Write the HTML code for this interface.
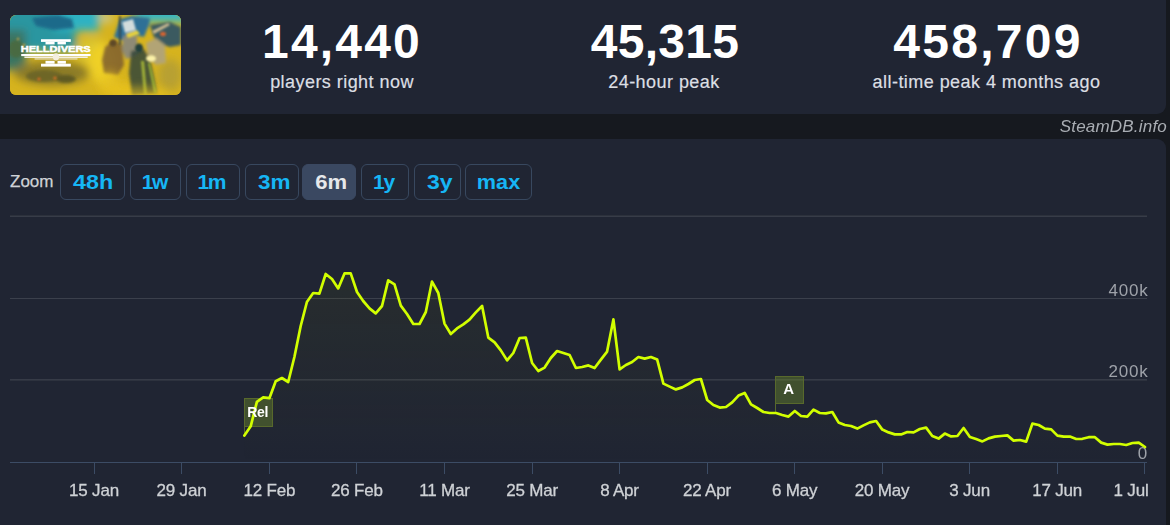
<!DOCTYPE html>
<html><head><meta charset="utf-8"><style>
*{margin:0;padding:0;box-sizing:border-box}
html,body{width:1170px;height:525px;overflow:hidden;background:#16191f;font-family:"Liberation Sans",sans-serif}
.top{position:absolute;left:0;top:-20px;width:1166px;height:134px;background:#202533;border-radius:0 0 9px 0}
.chartp{position:absolute;left:0;top:139px;width:1166px;height:420px;background:#202533;border-radius:0 9px 0 0}
.cap{position:absolute;left:10px;top:15px;width:171px;height:80px;border-radius:6px;overflow:hidden;background:#d8b21c}
.stat{position:absolute;top:0;width:322px;text-align:center}
.num{position:absolute;left:0;width:100%;top:14px;font-size:48px;font-weight:bold;color:#fff;line-height:56px}
.lab{position:absolute;left:0;width:100%;top:71px;font-size:18px;letter-spacing:0.45px;-webkit-text-stroke:0.2px #dcdfe3;color:#dcdfe3;line-height:22px}
.wm{position:absolute;right:3px;top:117px;letter-spacing:0.2px;font-size:17px;font-style:italic;color:#a9adb3;line-height:20px}
.zoom{position:absolute;left:10px;top:173px;-webkit-text-stroke:0.25px #cfd2d6;font-size:17px;color:#cfd2d6;line-height:18px}
.btn{position:absolute;top:164px;height:36px;border:1px solid #38485f;border-radius:6px;color:#16b6f5;font-weight:bold;font-size:21px;text-align:center;line-height:33px}
.btn.act{background:#3a4861;border-color:#3a4861;color:#e6e8eb}
body>svg{position:absolute;left:0;top:0}
svg text{font-family:"Liberation Sans",sans-serif}
</style></head><body>
<div class="top"></div>
<div class="chartp"></div>
<div class="cap"><svg width="171" height="80" viewBox="0 0 171 80" style="position:absolute;left:0;top:0">
<defs>
<filter id="b1" x="-50%" y="-50%" width="200%" height="200%"><feGaussianBlur stdDeviation="0.8"/></filter>
<filter id="b2" x="-50%" y="-50%" width="200%" height="200%"><feGaussianBlur stdDeviation="1.8"/></filter>
<filter id="b4" x="-50%" y="-50%" width="200%" height="200%"><feGaussianBlur stdDeviation="4.5"/></filter>
</defs>
<rect width="171" height="80" fill="#d6b31e"/>
<g filter="url(#b4)">
<rect x="-10" y="-10" width="76" height="46" fill="#2a96a0"/>
<rect x="45" y="-10" width="44" height="26" fill="#2fb2c2"/>
<rect x="125" y="-10" width="60" height="17" fill="#34b6c6"/>
<rect x="-10" y="15" width="26" height="40" fill="#3a7462"/>
<ellipse cx="82" cy="36" rx="16" ry="13" fill="#d8c430"/>
<ellipse cx="92" cy="48" rx="14" ry="20" fill="#efd028"/>
<ellipse cx="42" cy="58" rx="38" ry="12" fill="#8c7c26"/>
<ellipse cx="160" cy="60" rx="12" ry="16" fill="#b8a030"/>
<ellipse cx="110" cy="74" rx="22" ry="6" fill="#e6bf1e"/>
<ellipse cx="96" cy="3" rx="7" ry="5" fill="#c8c890"/>
</g>
<g filter="url(#b2)">
<path d="M22 3 L48 0 L62 4 L64 13 L44 15 L26 11 Z" fill="#1e6a8a"/>
<ellipse cx="6" cy="34" rx="8" ry="9" fill="#4a6a42"/>
<ellipse cx="34" cy="61" rx="18" ry="6" fill="#6e6626"/>
<ellipse cx="56" cy="64" rx="10" ry="4" fill="#5f5a22"/>
<path d="M104 22 L110 4 L122 1 L140 3 L139 10 L134 22 L126 20 L114 26 Z" fill="#2e7096"/>
<path d="M140 10 L160 7 L171 12 L171 30 L160 32 L146 28 Z" fill="#3a5a60"/>
<path d="M95 32 L104 25 L112 30 L114 50 L108 60 L94 58 L92 45 Z" fill="#7e5e2e" opacity="0.85"/>
<path d="M113 22 L120 17 L127 22 L128 40 L116 44 L112 35 Z" fill="#8e8a74"/>
<path d="M136 28 L146 23 L155 30 L156 48 L146 50 L138 42 Z" fill="#b2a474"/>
<path d="M121 36 L134 34 L140 44 L147 78 L122 80 L119 58 Z" fill="#34443a" opacity="0.85"/>
</g>
<g filter="url(#b1)">
<rect x="109" y="1" width="1.8" height="29" fill="#34444a"/>
<path d="M112 7 L123 4 L126 15 L115 18 Z" fill="#d2dcdc"/>
<path d="M116 19 L127 15 L130 19 L118 23 Z" fill="#e4d040"/>
<ellipse cx="153" cy="19" rx="3" ry="2.2" fill="#d46432"/>
<path d="M142 16 L158 8 L160 10 L144 19 Z" fill="#c8b890"/>
<ellipse cx="129" cy="33" rx="4" ry="4.5" fill="#22403e"/>
<ellipse cx="103" cy="28" rx="3.5" ry="3.5" fill="#5e4a26"/>
<ellipse cx="141" cy="43.5" rx="5" ry="3.2" fill="#fbf2a8"/>
<path d="M131 46 L134 80 L137 80 L134 46 Z" fill="#a0b038"/>
<path d="M138 48 L144 78 L147 78 L140 48 Z" fill="#98b034"/>
<ellipse cx="45" cy="63" rx="1.5" ry="1.5" fill="#e07020"/>
<ellipse cx="29" cy="64" rx="1.5" ry="1.5" fill="#e06a20"/>
<ellipse cx="8" cy="24" rx="1.2" ry="1.2" fill="#c8a040"/>
<ellipse cx="14" cy="30" rx="1.2" ry="1.2" fill="#d0a838"/>
</g>
<g filter="url(#b4)" opacity="0.55">
<ellipse cx="130" cy="80" rx="30" ry="8" fill="#e8c422"/>
<ellipse cx="100" cy="66" rx="10" ry="10" fill="#e8c422"/>
</g>
<g fill="#fff">
<rect x="31" y="24.2" width="29.8" height="2.7"/>
<rect x="35.5" y="26.8" width="9.1" height="2.6"/>
<rect x="47.5" y="26.8" width="8.4" height="2.6"/>
<text x="45.75" y="37.1" font-family="Liberation Sans" font-weight="bold" font-size="9" stroke="#fff" stroke-width="0.45" text-anchor="middle" textLength="70" lengthAdjust="spacingAndGlyphs">HELLDIVERS</text>
<rect x="11.2" y="39" width="69.4" height="2.1"/>
<rect x="14.4" y="41.5" width="63.3" height="1.5" fill="#f4f0e0"/>
<rect x="24.6" y="43.4" width="42.9" height="1.1" fill="#ece6d0"/>
<ellipse cx="46" cy="41.8" rx="3.2" ry="3.6" fill="#f4eede"/>
<rect x="35.5" y="45.8" width="9.1" height="2.9"/>
<rect x="47.5" y="45.8" width="8.4" height="2.9"/>
<rect x="31" y="48.7" width="29.8" height="2.9"/>
</g>
</svg>
</div>
<div class="stat" style="left:181px"><div class="num" style="letter-spacing:2.2px">14,440</div><div class="lab">players right now</div></div>
<div class="stat" style="left:503px"><div class="num" style="letter-spacing:0.25px;left:1px">45,315</div><div class="lab">24-hour peak</div></div>
<div class="stat" style="left:825.5px"><div class="num" style="letter-spacing:2.3px;left:1.5px">458,709</div><div class="lab">all-time peak 4 months ago</div></div>
<div class="wm">SteamDB.info</div>
<div class="zoom">Zoom</div>
<div class="btn" style="left:60px;width:65px"><span style="display:inline-block;transform:translateX(1px) scaleX(1.11)">48h</span></div><div class="btn" style="left:130px;width:51px;letter-spacing:-1.3px;text-indent:-2.3px">1w</div><div class="btn" style="left:186px;width:54px;letter-spacing:-1.5px;text-indent:-3.5px">1m</div><div class="btn" style="left:245px;width:54px"><span style="display:inline-block;transform:translateX(2px) scaleX(1.07)">3m</span></div><div class="btn act" style="left:302px;width:54px"><span style="display:inline-block;transform:translateX(2px) scaleX(1.05)">6m</span></div><div class="btn" style="left:361px;width:48px;letter-spacing:-1.2px;text-indent:-3.2px">1y</div><div class="btn" style="left:414px;width:47px"><span style="display:inline-block;transform:translateX(2px) scaleX(1.095)">3y</span></div><div class="btn" style="left:465px;width:67px"><span style="display:inline-block;transform:translateX(0.5px) scaleX(1.03)">max</span></div>
<svg width="1170" height="525" viewBox="0 0 1170 525">
<defs><linearGradient id="g" x1="0" y1="0" x2="0" y2="1"><stop offset="0" stop-color="#66700a" stop-opacity="0.11"/><stop offset="1" stop-color="#66700a" stop-opacity="0"/></linearGradient></defs>
<rect x="10" y="215" width="1137" height="1" fill="#2c313c"/><rect x="10" y="216" width="1137" height="1" fill="#373c48"/>
<rect x="10" y="298" width="1137" height="1" fill="#3b404c"/>
<rect x="10" y="379" width="1137" height="1" fill="#363b47"/><rect x="10" y="380" width="1137" height="1" fill="#2d323e"/>
<path d="M244.4 435.6 L250.7 426.3 L256.9 401.8 L263.2 397.3 L269.4 398.2 L275.7 381.3 L281.9 378.0 L288.2 382.0 L294.4 357.0 L300.7 326.0 L306.9 302.0 L313.2 293.0 L319.4 293.6 L325.7 274.0 L332.0 279.0 L338.2 288.4 L344.5 273.4 L350.7 273.4 L357.0 292.0 L363.2 301.0 L369.5 308.4 L375.7 313.4 L382.0 306.0 L388.2 280.4 L394.5 284.4 L400.8 305.6 L407.0 314.0 L413.3 324.0 L419.5 324.0 L425.8 312.0 L432.0 281.6 L438.3 293.0 L444.5 323.6 L450.8 334.0 L457.0 328.4 L463.3 324.4 L469.5 319.6 L475.8 312.4 L482.1 306.0 L488.3 337.6 L494.6 342.4 L500.8 350.4 L507.1 360.4 L513.3 353.0 L519.6 338.0 L525.8 337.6 L532.1 363.0 L538.3 371.0 L544.6 367.6 L550.8 358.0 L557.1 351.0 L563.4 353.0 L569.6 355.0 L575.9 368.0 L582.1 367.0 L588.4 365.4 L594.6 368.0 L600.9 359.6 L607.1 351.6 L613.4 319.4 L619.6 369.4 L625.9 365.0 L632.1 362.0 L638.4 357.0 L644.7 358.6 L650.9 357.0 L657.2 359.6 L663.4 383.6 L669.7 386.6 L675.9 389.4 L682.2 387.4 L688.4 384.0 L694.7 380.0 L700.9 379.0 L707.2 400.0 L713.4 405.0 L719.7 407.6 L726.0 407.0 L732.2 402.4 L738.5 395.6 L744.7 393.0 L751.0 404.4 L757.2 408.0 L763.5 412.0 L769.7 413.0 L776.0 413.0 L782.2 415.0 L788.5 416.6 L794.8 411.0 L801.0 416.0 L807.3 416.6 L813.5 409.6 L819.8 413.0 L826.0 413.4 L832.3 412.0 L838.5 422.4 L844.8 425.0 L851.0 426.0 L857.3 428.6 L863.5 425.4 L869.8 422.4 L876.1 421.0 L882.3 429.6 L888.6 432.4 L894.8 434.4 L901.1 434.4 L907.3 432.0 L913.6 432.4 L919.8 429.0 L926.1 427.6 L932.3 436.0 L938.6 438.6 L944.8 433.6 L951.1 436.4 L957.4 436.0 L963.6 428.0 L969.9 437.0 L976.1 439.0 L982.4 441.4 L988.6 438.4 L994.9 436.6 L1001.1 436.0 L1007.4 435.4 L1013.6 440.6 L1019.9 440.0 L1026.2 441.6 L1032.4 423.6 L1038.7 425.0 L1044.9 428.6 L1051.2 429.4 L1057.4 435.6 L1063.7 436.6 L1069.9 436.6 L1076.2 439.0 L1082.4 438.8 L1088.7 437.2 L1094.9 437.2 L1101.2 442.6 L1107.5 444.6 L1113.7 444.0 L1120.0 444.0 L1126.2 445.0 L1132.5 443.0 L1138.7 442.6 L1145.0 447.0 L1145.0 462 L244.4 462 Z" fill="url(#g)"/>
<rect x="10" y="462" width="1137" height="1" fill="#3c4c65"/>
<g stroke="#3c4c65" stroke-width="1"><line x1="94.5" y1="462" x2="94.5" y2="474"/><line x1="181.5" y1="462" x2="181.5" y2="474"/><line x1="269.5" y1="462" x2="269.5" y2="474"/><line x1="356.5" y1="462" x2="356.5" y2="474"/><line x1="444.5" y1="462" x2="444.5" y2="474"/><line x1="532.5" y1="462" x2="532.5" y2="474"/><line x1="619.5" y1="462" x2="619.5" y2="474"/><line x1="707.5" y1="462" x2="707.5" y2="474"/><line x1="794.5" y1="462" x2="794.5" y2="474"/><line x1="882.5" y1="462" x2="882.5" y2="474"/><line x1="969.5" y1="462" x2="969.5" y2="474"/><line x1="1057.5" y1="462" x2="1057.5" y2="474"/><line x1="1144.5" y1="462" x2="1144.5" y2="474"/></g>
<g font-size="17" fill="#cfd2d6" stroke="#cfd2d6" stroke-width="0.3" letter-spacing="-0.2"><text x="94.0" y="495.6" text-anchor="middle">15 Jan</text><text x="181.5" y="495.6" text-anchor="middle">29 Jan</text><text x="269.4" y="495.6" text-anchor="middle">12 Feb</text><text x="356.9" y="495.6" text-anchor="middle">26 Feb</text><text x="444.5" y="495.6" text-anchor="middle">11 Mar</text><text x="532.0" y="495.6" text-anchor="middle">25 Mar</text><text x="619.5" y="495.6" text-anchor="middle">8 Apr</text><text x="707.0" y="495.6" text-anchor="middle">22 Apr</text><text x="794.6" y="495.6" text-anchor="middle">6 May</text><text x="882.0" y="495.6" text-anchor="middle">20 May</text><text x="969.6" y="495.6" text-anchor="middle">3 Jun</text><text x="1057.1" y="495.6" text-anchor="middle">17 Jun</text><text x="1148.5" y="495.6" text-anchor="end">1 Jul</text></g>
<g font-size="17" letter-spacing="0.8" fill="#9ea2a9" text-anchor="end"><text x="1148.5" y="295.5">400k</text><text x="1148.5" y="377">200k</text><text x="1148" y="458.8">0</text></g>
<line x1="244.5" y1="426" x2="244.5" y2="435" stroke="#58692c" stroke-width="1"/>
<rect x="244.5" y="398.5" width="28" height="28" fill="rgba(110,140,40,0.42)" stroke="#58692c" stroke-width="1"/>
<line x1="775.5" y1="404" x2="775.5" y2="412" stroke="#58692c" stroke-width="1"/>
<rect x="775.5" y="376.5" width="28" height="27" fill="rgba(110,140,40,0.42)" stroke="#58692c" stroke-width="1"/>
<path d="M244.4 435.6 L250.7 426.3 L256.9 401.8 L263.2 397.3 L269.4 398.2 L275.7 381.3 L281.9 378.0 L288.2 382.0 L294.4 357.0 L300.7 326.0 L306.9 302.0 L313.2 293.0 L319.4 293.6 L325.7 274.0 L332.0 279.0 L338.2 288.4 L344.5 273.4 L350.7 273.4 L357.0 292.0 L363.2 301.0 L369.5 308.4 L375.7 313.4 L382.0 306.0 L388.2 280.4 L394.5 284.4 L400.8 305.6 L407.0 314.0 L413.3 324.0 L419.5 324.0 L425.8 312.0 L432.0 281.6 L438.3 293.0 L444.5 323.6 L450.8 334.0 L457.0 328.4 L463.3 324.4 L469.5 319.6 L475.8 312.4 L482.1 306.0 L488.3 337.6 L494.6 342.4 L500.8 350.4 L507.1 360.4 L513.3 353.0 L519.6 338.0 L525.8 337.6 L532.1 363.0 L538.3 371.0 L544.6 367.6 L550.8 358.0 L557.1 351.0 L563.4 353.0 L569.6 355.0 L575.9 368.0 L582.1 367.0 L588.4 365.4 L594.6 368.0 L600.9 359.6 L607.1 351.6 L613.4 319.4 L619.6 369.4 L625.9 365.0 L632.1 362.0 L638.4 357.0 L644.7 358.6 L650.9 357.0 L657.2 359.6 L663.4 383.6 L669.7 386.6 L675.9 389.4 L682.2 387.4 L688.4 384.0 L694.7 380.0 L700.9 379.0 L707.2 400.0 L713.4 405.0 L719.7 407.6 L726.0 407.0 L732.2 402.4 L738.5 395.6 L744.7 393.0 L751.0 404.4 L757.2 408.0 L763.5 412.0 L769.7 413.0 L776.0 413.0 L782.2 415.0 L788.5 416.6 L794.8 411.0 L801.0 416.0 L807.3 416.6 L813.5 409.6 L819.8 413.0 L826.0 413.4 L832.3 412.0 L838.5 422.4 L844.8 425.0 L851.0 426.0 L857.3 428.6 L863.5 425.4 L869.8 422.4 L876.1 421.0 L882.3 429.6 L888.6 432.4 L894.8 434.4 L901.1 434.4 L907.3 432.0 L913.6 432.4 L919.8 429.0 L926.1 427.6 L932.3 436.0 L938.6 438.6 L944.8 433.6 L951.1 436.4 L957.4 436.0 L963.6 428.0 L969.9 437.0 L976.1 439.0 L982.4 441.4 L988.6 438.4 L994.9 436.6 L1001.1 436.0 L1007.4 435.4 L1013.6 440.6 L1019.9 440.0 L1026.2 441.6 L1032.4 423.6 L1038.7 425.0 L1044.9 428.6 L1051.2 429.4 L1057.4 435.6 L1063.7 436.6 L1069.9 436.6 L1076.2 439.0 L1082.4 438.8 L1088.7 437.2 L1094.9 437.2 L1101.2 442.6 L1107.5 444.6 L1113.7 444.0 L1120.0 444.0 L1126.2 445.0 L1132.5 443.0 L1138.7 442.6 L1145.0 447.0" fill="none" stroke="#d2ff00" stroke-width="2.7" stroke-linejoin="round" stroke-linecap="round"/>
<text x="257.6" y="416.8" font-size="14" font-weight="bold" fill="#fff" text-anchor="middle" letter-spacing="-0.3">Rel</text>
<text x="788.6" y="393.9" font-size="15" font-weight="bold" fill="#fff" text-anchor="middle">A</text>
</svg>
</body></html>
